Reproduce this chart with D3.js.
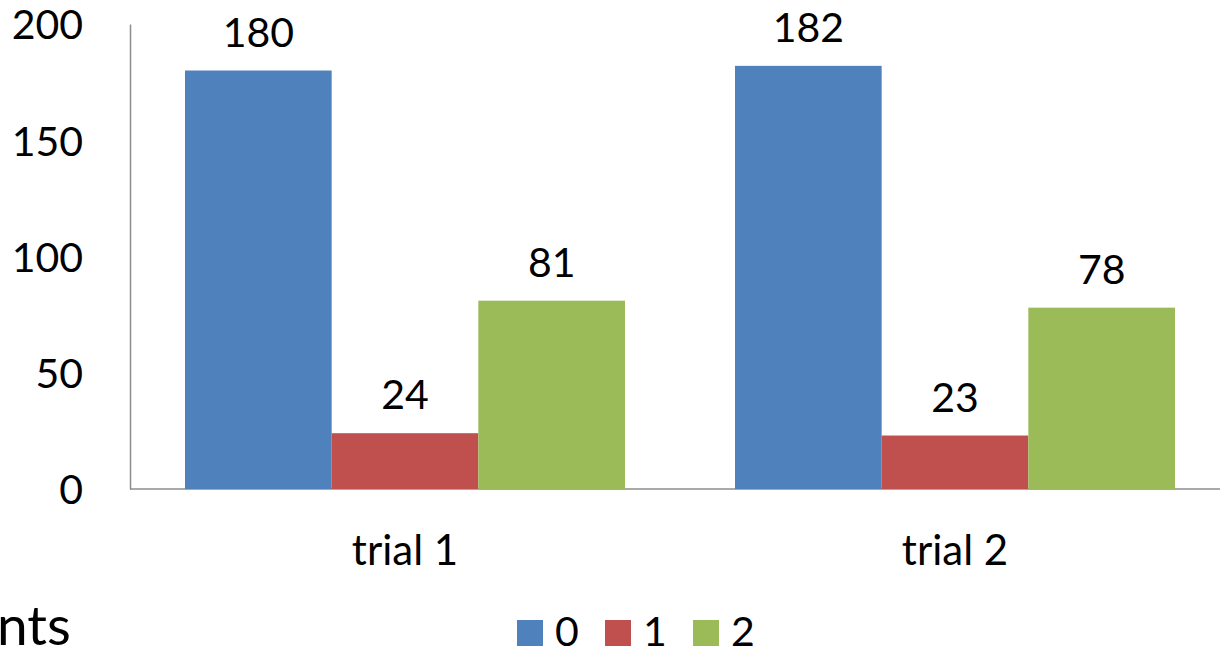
<!DOCTYPE html>
<html lang="en">
<head>
<script src="https://d3js.org/d3.v7.min.js"></script>
<style>
  body { margin: 0; background: #fff; }
  text { font-family: Lato, "Open Sans", sans-serif; fill: #000; }
</style>
</head>
<body>
<script>
  var width = 1220, height = 652;

  // data
  var categories = ["trial 1", "trial 2"];
  var series = ["0", "1", "2"];
  var values0 = [180, 182];
  var values1 = [24, 23];
  var values2 = [81, 78];
  var yTicks = [0, 50, 100, 150, 200];
  var colours = ["#4f81bd", "#c0504d", "#9bbb59"];

  var allValues = [values0, values1, values2];

  var svg = d3.select("body").append("svg")
    .attr("width", width)
    .attr("height", height);

  // scales
  var x0 = d3.scaleBand().domain(categories).range([130, 1230]);
  var bw = x0.bandwidth();
  var x1 = d3.scaleBand().domain(series).range([bw * 0.1, bw * 0.9]);
  var y = d3.scaleLinear().domain([0, 200]).range([489, 24]);
  var colour = d3.scaleOrdinal().domain(series).range(colours);

  // y axis
  var yAxis = svg.append("g")
    .attr("transform", "translate(130,0)")
    .call(d3.axisLeft(y).tickValues(yTicks).tickSize(0).tickPadding(47));
  yAxis.select(".domain").attr("stroke", "#8c8c8c").attr("stroke-width", 1.5);
  yAxis.selectAll("text")
    .style("font-family", "Lato, 'Open Sans', sans-serif")
    .style("font-size", "41px")
    .attr("fill", "#000")
    .attr("dy", "0.36em");

  // x axis line
  svg.append("line")
    .attr("x1", 130).attr("x2", width)
    .attr("y1", y(0)).attr("y2", y(0))
    .attr("stroke", "#8c8c8c").attr("stroke-width", 1.5);

  // bars
  var groups = svg.selectAll("g.cat")
    .data(categories)
    .join("g")
    .attr("class", "cat")
    .attr("transform", function(d) { return "translate(" + x0(d) + ",0)"; });

  groups.selectAll("rect")
    .data(function(d, i) {
      return series.map(function(s, j) { return {s: s, v: allValues[j][i]}; });
    })
    .join("rect")
    .attr("x", function(d) { return x1(d.s); })
    .attr("width", x1.bandwidth())
    .attr("y", function(d) { return y(d.v); })
    .attr("height", function(d) { return y(0) - y(d.v); })
    .attr("fill", function(d) { return colour(d.s); });

  groups.selectAll("text.val")
    .data(function(d, i) {
      return series.map(function(s, j) { return {s: s, v: allValues[j][i]}; });
    })
    .join("text")
    .attr("class", "val")
    .attr("x", function(d) { return x1(d.s) + x1.bandwidth() / 2; })
    .attr("y", function(d) { return y(d.v) - 24; })
    .attr("text-anchor", "middle")
    .style("font-size", "41px")
    .text(function(d) { return d.v; });

  // category labels
  svg.selectAll("text.cat")
    .data(categories)
    .join("text")
    .attr("class", "cat")
    .attr("x", function(d) { return x0(d) + bw / 2; })
    .attr("y", 565)
    .attr("text-anchor", "middle")
    .style("font-size", "42px")
    .text(function(d) { return d; });

  // legend
  var legendX = [517, 605, 693];
  var legend = svg.selectAll("g.leg")
    .data(series)
    .join("g")
    .attr("class", "leg")
    .attr("transform", function(d, i) { return "translate(" + legendX[i] + ",620)"; });
  legend.append("rect")
    .attr("width", 26).attr("height", 26)
    .attr("fill", function(d) { return colour(d); });
  legend.append("text")
    .attr("x", 38).attr("y", 26)
    .style("font-size", "41px")
    .text(function(d) { return d; });

  // fragment of slide text under the chart
  svg.append("text")
    .attr("x", -3).attr("y", 645)
    .style("font-size", "55px")
    .text("nts");
</script>
</body>
</html>
